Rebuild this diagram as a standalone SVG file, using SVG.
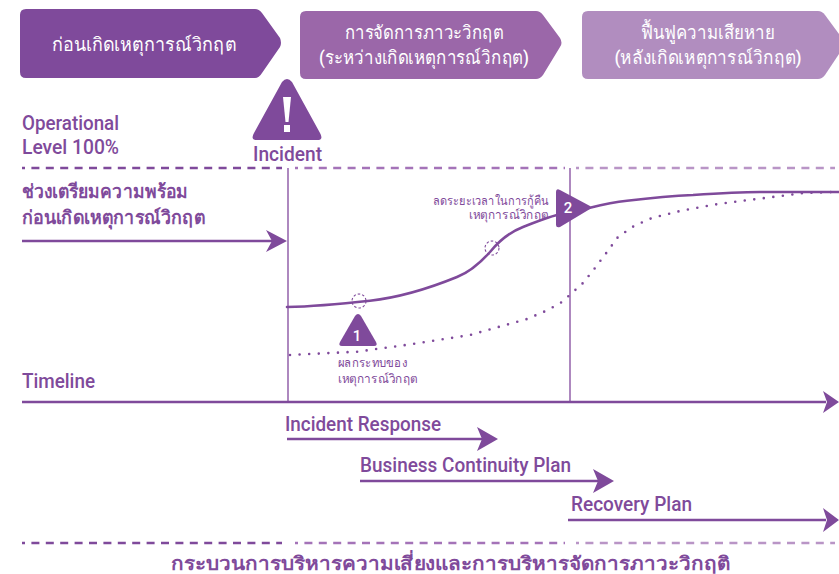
<svg xmlns="http://www.w3.org/2000/svg" width="839" height="574" viewBox="0 0 839 574">
<style>
text{font-family:"Roboto","Noto Sans",sans-serif;fill:#7f4a9b;font-weight:500}
.w{fill:#fff;text-anchor:middle;font-size:19px}
.en{font-size:20px}
.th{font-size:19px;font-weight:600}
.sm{font-size:12.500px}
.l{fill:none;stroke:#7f4a9b;stroke-width:2.6}
.ar{fill:#7f4a9b}
.v{stroke:#9a6bb0;stroke-width:1.6;fill:none}
.d{fill:none;stroke-width:2.6;stroke-dasharray:8 6.400;stroke-dashoffset:5}
</style>
<rect width="839" height="574" fill="#fff"/>
<g id="phase-before"><path d="M26 9H255Q259 9 262 13L280 38Q282 43 280 47L262 73Q259 78 255 78H26Q20 78 20 72V15Q20 9 26 9Z" fill="#7f4a9b"/><text class="w" x="144" y="51" textLength="184" lengthAdjust="spacingAndGlyphs">ก่อนเกิดเหตุการณ์วิกฤต</text></g>
<g id="phase-during"><path d="M306 11H536Q540 11 543 15L560 38Q563 43 560 47L543 75Q540 79 536 79H306Q300 79 300 73V17Q300 11 306 11Z" fill="#9b67a9"/><text class="w" x="424" y="39" textLength="159" lengthAdjust="spacingAndGlyphs">การจัดการภาวะวิกฤต</text><text class="w" x="424" y="64" textLength="210" lengthAdjust="spacingAndGlyphs">(ระหว่างเกิดเหตุการณ์วิกฤต)</text></g>
<g id="phase-after"><path d="M588 11H818Q822 11 825 15L839 34V54L825 75Q822 79 818 79H588Q582 79 582 73V17Q582 11 588 11Z" fill="#b18dbf"/><text class="w" x="708" y="39" textLength="134" lengthAdjust="spacingAndGlyphs">ฟื้นฟูความเสียหาย</text><text class="w" x="708" y="64" textLength="187" lengthAdjust="spacingAndGlyphs">(หลังเกิดเหตุการณ์วิกฤต)</text></g>
<g id="incident"><path d="M282 82Q287 76 292 82L320 133Q324 140 317 140H257Q250 140 254 133Z" fill="#7f4a9b"/><path d="M283 97H291L288.500 122H285.500Z" fill="#fff"/><rect x="284" y="125" width="6" height="7" fill="#fff"/><text class="en" x="253" y="161" textLength="69" lengthAdjust="spacingAndGlyphs">Incident</text></g>
<g id="level"><text class="en" x="22" y="130" textLength="97" lengthAdjust="spacingAndGlyphs">Operational</text><text class="en" x="22" y="154" textLength="97" lengthAdjust="spacingAndGlyphs">Level 100%</text></g>
<g id="prep"><text class="th" x="22" y="198" textLength="166" lengthAdjust="spacingAndGlyphs">ช่วงเตรียมความพร้อม</text><text class="th" x="22" y="224" textLength="183" lengthAdjust="spacingAndGlyphs">ก่อนเกิดเหตุการณ์วิกฤต</text></g>
<g id="connectors">
<path class="d" stroke="#7f4a9b" d="M22 168H282"/>
<path class="d" stroke="#a473b8" d="M295 168H565"/>
<path class="d" stroke="#b995c6" d="M576 168H835"/>
<path class="v" d="M288 168V402M570 168V402"/>
<path class="l" d="M22 241H272"/><path class="ar" d="M266 230L287 241L266 252L272 241Z"/>
<path class="l" stroke-linecap="round" d="M287 307C310 306.500 340 304 370 300.700S430 288 457 277C470 272 481 262 490 252C499 241 510 232 523 227C535 222.500 545 218 557 215L590 207.700C605 204 615 202 627 200.700C650 198 670 196 693 195C715 193.500 740 192 760 192H839"/>
<path d="M290 355L357 351.700L413 344L470 335L527 319L548 310L562 302L583 283L595 268L607 252L618 237L634 226L652 218L680 211L718 204L757 199L804 193L833 192" fill="none" stroke="#7f4a9b" stroke-width="2.600" stroke-linecap="round" stroke-linejoin="round" stroke-dasharray="0 9.600"/>
<circle cx="359" cy="301" r="7" fill="none" stroke="#7f4a9b" stroke-width="1.100" stroke-dasharray="2.500 2"/>
<circle cx="492" cy="248" r="7" fill="none" stroke="#7f4a9b" stroke-width="1.100" stroke-dasharray="2.500 2"/>
<path class="l" d="M22 402H826"/><path class="ar" d="M823 391L839 402L823 413L827 402Z"/>
<path class="l" d="M287 439H482"/><path class="ar" d="M477 427L498 439L477 451L482 439Z"/>
<path class="l" d="M360 481H598"/><path class="ar" d="M593 469L614 481L593 493L598 481Z"/>
<path class="l" d="M568 520H826"/><path class="ar" d="M823 508L839 520L823 532L827 520Z"/>
<path class="d" stroke="#7f4a9b" d="M22 543H282"/>
<path class="d" stroke="#a473b8" d="M295 543H565"/>
<path class="d" stroke="#b995c6" d="M576 543H835"/>
</g>
<g id="impact"><path d="M355 316Q358 312 361 316L376 342Q378 346 374 346H342Q338 346 340 342Z" fill="#7f4a9b"/><text x="357" y="341" text-anchor="middle" style="fill:#fff;font-size:15px">1</text><text class="sm" x="338" y="367" textLength="69" lengthAdjust="spacingAndGlyphs">ผลกระทบของ</text><text class="sm" x="338" y="383" textLength="80" lengthAdjust="spacingAndGlyphs">เหตุการณ์วิกฤต</text></g>
<g id="reduce"><path d="M556 192Q556 188 560 190L590 206Q592 208 590 209L560 227Q556 228 556 225Z" fill="#7f4a9b"/><text x="568" y="213" text-anchor="middle" style="fill:#fff;font-size:15px">2</text><text class="sm" x="433" y="205" textLength="116" lengthAdjust="spacingAndGlyphs">ลดระยะเวลาในการกู้คืน</text><text class="sm" x="469" y="219" textLength="80" lengthAdjust="spacingAndGlyphs">เหตุการณ์วิกฤต</text></g>
<g id="labels"><text class="en" x="22" y="388" textLength="73" lengthAdjust="spacingAndGlyphs">Timeline</text><text class="en" x="285" y="431" textLength="156" lengthAdjust="spacingAndGlyphs">Incident Response</text><text class="en" x="360" y="472" textLength="211" lengthAdjust="spacingAndGlyphs">Business Continuity Plan</text><text class="en" x="571" y="511" textLength="121" lengthAdjust="spacingAndGlyphs">Recovery Plan</text></g>
<g id="footer"><text x="171" y="570" style="font-size:19px;font-weight:600" textLength="559" lengthAdjust="spacingAndGlyphs">กระบวนการบริหารความเสี่ยงและการบริหารจัดการภาวะวิกฤติ</text></g>
</svg>
